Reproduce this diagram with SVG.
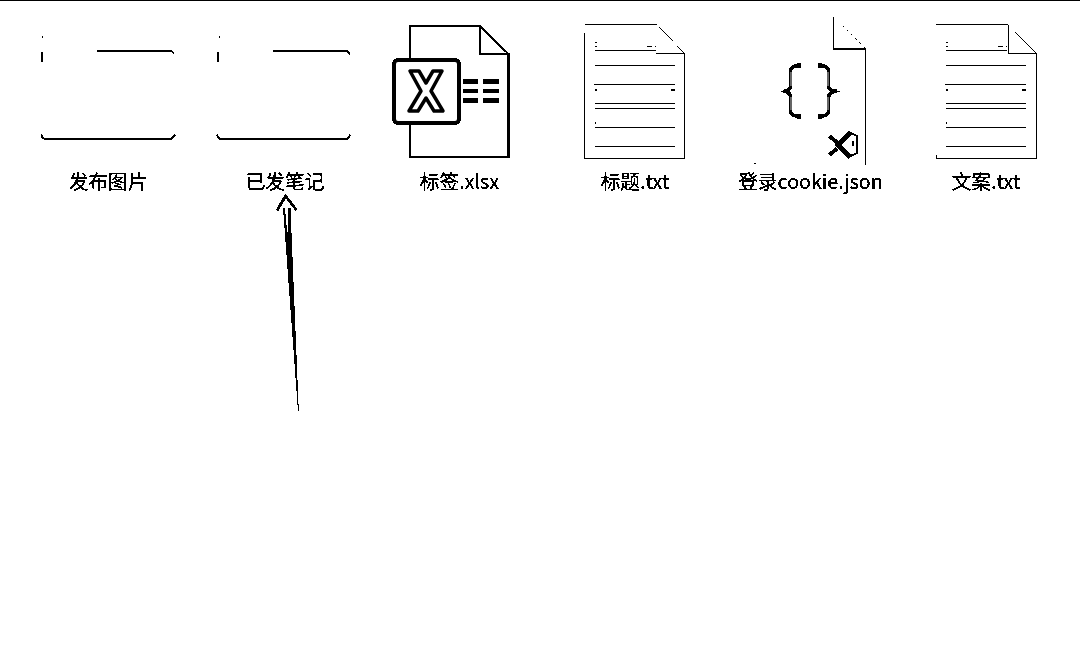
<svg xmlns="http://www.w3.org/2000/svg" width="1080" height="668" viewBox="0 0 1080 668">
<style>
text{font-family:"Noto Sans CJK SC","Noto Sans",sans-serif;font-size:19.700px;fill:#000;stroke:#000;stroke-width:.3px;text-anchor:middle}
.l{fill:none;stroke:#000;stroke-width:1}
.t{fill:none;stroke:#000;stroke-width:2}
.h{fill:none;stroke:#000;stroke-width:.8}
.k{fill:#000;stroke:none}
.w{fill:none;stroke:#fff;stroke-width:.8}
</style>
<defs>
<filter id="bw" x="0" y="0" width="1" height="1" filterUnits="objectBoundingBox" color-interpolation-filters="sRGB"><feComponentTransfer><feFuncA type="discrete" tableValues="0 1"/></feComponentTransfer></filter>
<g id="rules">
<path class="l" d="M11 26H72M11 41H91M10 60H91M11 79H91M11 84H91M11 103H91M11 122H91"/>
<path class="k" d="M11 17.500h2v1h-2zM11 21.500h2v1h-2zM63 21.500h5v1h-5zM71 21.500h1v1h-1zM11 65h2v1h-2zM87 65h4v1h-4zM11 98h1v1h-1z"/>
</g>
</defs>
<rect width="1080" height="668" fill="#fff"/>
<g filter="url(#bw)">
<path id="top-edge" class="l" d="M0 .5H1080"/>
<g id="node-publish-images">
<path class="k" d="M42 36.500h1v1h-1zM41 52h1.500v10H41z"/>
<path class="t" d="M97 51H171.500L174 53.500"/>
<path class="t" d="M41.500 134.500Q42 139 46 139H169Q173 139 175 134.500"/>
<text x="108" y="189">发布图片</text>
</g>
<g id="node-published-notes">
<path class="k" d="M219 36.500h1v1h-1zM217 52h1.500v10H217z"/>
<path class="t" d="M273 51H347L350 54.500"/>
<path class="t" d="M217 134.500Q218 139 222 139H345Q349 139 350 134.500"/>
<text x="285" y="189">已发笔记</text>
</g>
<g id="node-tags-xlsx">
<path class="t" d="M410 58V26H480V54H508.500V157H410V124M480 26L508.500 54"/>
<rect x="394" y="60" width="65" height="63" rx="4" fill="#fff" stroke="#000" stroke-width="4"/>
<path d="M410 71H419L426 83L433 71H442L431 91L443 111H434L426 98L418 111H409L421 91Z" fill="#fff" stroke="#000" stroke-width="3.500" stroke-linejoin="round"/>
<path class="k" d="M463 79.500h15v4h-15zM483 79.500h16v4h-16zM463 89h15v4h-15zM483 89h16v4h-16zM463 98.500h15v4.500h-15zM483 98.500h16v4.500h-16z"/>
<text x="459.500" y="189">标签.xlsx</text>
</g>
<g id="node-title-txt">
<path class="l" d="M585 24.500H657M684.500 53V158.500H584.500V33M656 53.500H684.500"/>
<path class="h" d="M657 24.500L684 53"/>
<use href="#rules" x="584" y="24.500"/>
<text x="635" y="189">标题.txt</text>
</g>
<g id="node-cookie-json">
<path class="h" d="M833.500 17L865 48" stroke-dasharray="3 3"/>
<path class="l" d="M833.500 17V48.500"/>
<path class="t" d="M833 49H865"/>
<path class="l" d="M865.500 48V165"/>
<path class="k" d="M754.500 163h1v1h-1z"/>
<path d="M800 65.500Q790.500 65.500 790.500 71V85Q790.500 90 786 91.500Q790.500 93 790.500 98V111Q790.500 116.500 800 116.500" fill="none" stroke="#000" stroke-width="3.500"/>
<path d="M819 65.500Q828.500 65.500 828.500 71V85Q828.500 90 834 91.500Q828.500 93 828.500 98V111Q828.500 116.500 819 116.500" fill="none" stroke="#000" stroke-width="3.500"/>
<path class="w" d="M791 72V86M791 97V110M828 72V86M828 97V110"/>
<path class="k" d="M784 89.500h3v3h-3zM833 89.500h4v3h-4zM797 63h4v5h-4zM818 63h4v5h-4zM797 114h4v5h-4zM818 114h4v5h-4z"/>
<path class="t" d="M849 132L857 136V153L849 157"/>
<path d="M850 133L838 145L850 157" fill="none" stroke="#000" stroke-width="5.500"/>
<path d="M829.500 136L837 142.500M837 148.500L829.500 155" fill="none" stroke="#000" stroke-width="4"/>
<path class="k" d="M852 141h1.500v5H852z"/>
<text x="810.500" y="189">登录cookie.json</text>
</g>
<g id="node-copy-txt">
<path class="l" d="M936 24.500H1008V53.500H1036.500V158.500H936V155"/>
<path class="h" d="M1008 24.500L1036 53"/>
<use href="#rules" x="935" y="24.500"/>
<text x="986" y="189">文案.txt</text>
</g>
<g id="connectors">
<path class="k" d="M298.800 411.500H298L283 208H285L287.500 236L288.300 208H290.500Z"/>
<path d="M277 210.500L285.500 196L296.500 210" fill="none" stroke="#000" stroke-width="2.800"/>
</g>
</g>
</svg>
